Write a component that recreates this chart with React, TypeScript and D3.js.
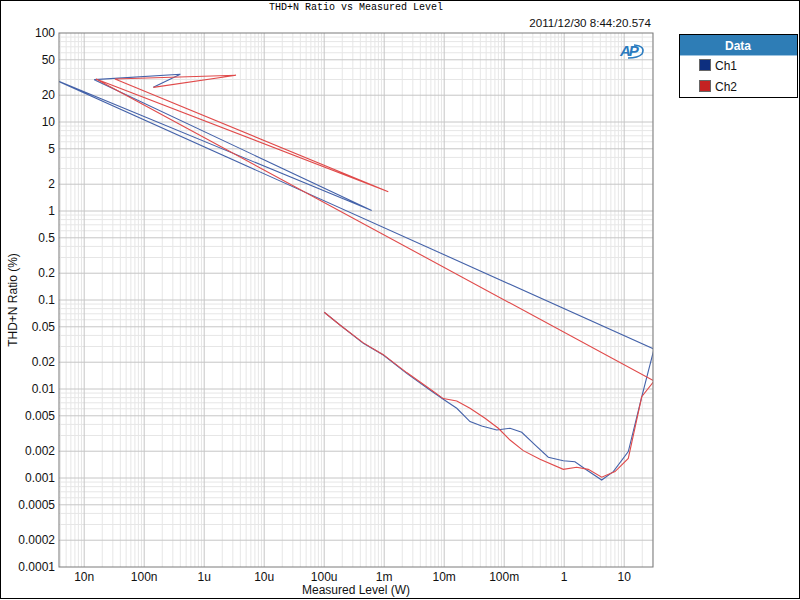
import React from "react";
import * as d3 from "d3";

// ---- data ----
const ch1Level = [1.0e-4, 1.83e-4, 4.49e-4, 9.66e-4, 2.37e-3, 5.79e-3, 9.66e-3, 0.0162, 0.0269, 0.0422, 0.075, 0.125, 0.196, 0.326, 0.543, 0.966, 1.51, 2.37, 4.22, 6.58, 11.7, 19.6, 31.4, 2.9e-9, 6.19e-4, 1.47e-8, 4.0e-7, 1.42e-7];
const ch1Thdn = [0.0728, 0.0524, 0.0326, 0.0241, 0.015, 0.00975, 0.00766, 0.00607, 0.0043, 0.00384, 0.00346, 0.00362, 0.00326, 0.00235, 0.00171, 0.00156, 0.00152, 0.00123, 0.00095, 0.00118, 0.00198, 0.00818, 0.0281, 30.9, 1.01, 29.9, 34.4, 24.5];
const ch2Level = [1.0e-4, 1.83e-4, 4.49e-4, 9.66e-4, 2.37e-3, 5.79e-3, 9.66e-3, 0.0162, 0.0269, 0.0479, 0.0798, 0.125, 0.208, 0.395, 0.966, 1.61, 2.52, 4.22, 7.03, 11.7, 19.6, 31.4, 1.57e-8, 1.17e-3, 3.26e-8, 3.39e-6, 1.42e-7];
const ch2Thdn = [0.0728, 0.0524, 0.033, 0.0243, 0.0153, 0.01, 0.0078, 0.00733, 0.00607, 0.00469, 0.00362, 0.00267, 0.00203, 0.00162, 0.00125, 0.00132, 0.00125, 0.00102, 0.00118, 0.00166, 0.00818, 0.0123, 30.4, 1.65, 30.4, 33.5, 24.5];

const xTickValues = [1e-8, 1e-7, 1e-6, 1e-5, 1e-4, 1e-3, 1e-2, 1e-1, 1, 10];
const xTickLabels = ["10n", "100n", "1u", "10u", "100u", "1m", "10m", "100m", "1", "10"];
const yTickValues = [100, 50, 20, 10, 5, 2, 1, 0.5, 0.2, 0.1, 0.05, 0.02, 0.01, 0.005, 0.002, 0.001, 0.0005, 0.0002, 0.0001];
const yTickLabels = ["100", "50", "20", "10", "5", "2", "1", "0.5", "0.2", "0.1", "0.05", "0.02", "0.01", "0.005", "0.002", "0.001", "0.0005", "0.0002", "0.0001"];

const seriesNames = ["Ch1", "Ch2"];
const lineColors = ["#4462a9", "#e04a4a"];
const swatchColors = ["#0d2f7f", "#c42222"];

const L = 59, R = 653, T = 33, B = 567;

export default function App() {
  const x = d3.scaleLog().domain([Math.pow(10, -8.42), Math.pow(10, 1.48)]).range([L, R]);
  const y = d3.scaleLog().domain([1e-4, 100]).range([B, T]);

  const xMinor: number[] = [];
  for (let e = -9; e <= 1; e++) for (let m = 2; m <= 9; m++) {
    const v = m * Math.pow(10, e);
    const px = x(v);
    if (px > L && px < R) xMinor.push(px);
  }
  const yMinor: number[] = [];
  const yMajor: number[] = [];
  for (let e = -4; e <= 1; e++) for (let m = 1; m <= 9; m++) {
    const v = m * Math.pow(10, e);
    const py = y(v);
    if (py <= T || py >= B) continue;
    if (m === 1 || m === 2 || m === 5) yMajor.push(py); else yMinor.push(py);
  }

  const line = d3.line<[number, number]>().x(d => x(d[0])).y(d => y(d[1]));
  const s1 = line(ch1Level.map((v, i) => [v, ch1Thdn[i]] as [number, number]));
  const s2 = line(ch2Level.map((v, i) => [v, ch2Thdn[i]] as [number, number]));

  const font = "'Liberation Sans', Arial, sans-serif";

  return (
    <svg width={800} height={600} style={{ position: "absolute", left: 0, top: 0, background: "#fff" }} fontFamily={font}>
      <rect x={0} y={0} width={800} height={600} fill="#fff" />
      <defs>
        <clipPath id="plotClip"><rect x={L} y={T} width={R - L} height={B - T} /></clipPath>
      </defs>
      {/* grid */}
      {xMinor.map((px, i) => <line key={"xm" + i} x1={px} x2={px} y1={T} y2={B} stroke="#e6e6e6" strokeWidth={1} />)}
      {yMinor.map((py, i) => <line key={"ym" + i} x1={L} x2={R} y1={py} y2={py} stroke="#e6e6e6" strokeWidth={1} />)}
      {xTickValues.map((v, i) => <line key={"xM" + i} x1={x(v)} x2={x(v)} y1={T} y2={B} stroke="#c6c6c6" strokeWidth={1} />)}
      {yMajor.map((py, i) => <line key={"yM" + i} x1={L} x2={R} y1={py} y2={py} stroke="#c6c6c6" strokeWidth={1} />)}
      {/* data */}
      <g clipPath="url(#plotClip)" fill="none" strokeWidth={1.1}>
        <path d={s1 || ""} stroke={lineColors[0]} />
        <path d={s2 || ""} stroke={lineColors[1]} />
      </g>
      <rect x={L} y={T} width={R - L} height={B - T} fill="none" stroke="#7a7a7a" strokeWidth={1} />
      {/* ticks */}
      {xTickValues.map((v, i) => (
        <text key={"xt" + i} x={x(v)} y={581} fontSize={12} textAnchor="middle" fill="#111">{xTickLabels[i]}</text>
      ))}
      {yTickValues.map((v, i) => (
        <text key={"yt" + i} x={55} y={y(v) + 4} fontSize={12} textAnchor="end" fill="#111">{yTickLabels[i]}</text>
      ))}
      {/* axis labels */}
      <text x={(L + R) / 2} y={594} fontSize={12} textAnchor="middle" fill="#111">Measured Level (W)</text>
      <text transform={`translate(17,${(T + B) / 2}) rotate(-90)`} fontSize={12} textAnchor="middle" fill="#111">THD+N Ratio (%)</text>
      {/* title */}
      <text x={(L + R) / 2} y={10} fontSize={10} textAnchor="middle" fontFamily="'Liberation Mono', monospace" fill="#000">THD+N Ratio vs Measured Level</text>
      <text x={651} y={27} fontSize={11.6} textAnchor="end" fill="#111">2011/12/30 8:44:20.574</text>
      {/* AP logo */}
      <g>
        <text x={620} y={56} fontSize={15} fontWeight="bold" fontStyle="italic" fill="#2b7bbf" letterSpacing={-2}>AP</text>
        <path d="M 634 45 Q 646 46 642 54 Q 638 58 628 58" fill="none" stroke="#2b7bbf" strokeWidth={1.6} />
      </g>
      {/* legend */}
      <rect x={679.5} y={34.5} width={118} height={63} fill="#fff" stroke="#000" strokeWidth={1} />
      <rect x={680} y={35} width={117} height={20} fill="#2e7db6" />
      <line x1={680} x2={797} y1={55.5} y2={55.5} stroke="#9cc3e0" strokeWidth={1} />
      <text x={738} y={49.5} fontSize={12} fontWeight="bold" textAnchor="middle" fill="#fff">Data</text>
      {seriesNames.map((n, i) => (
        <g key={n}>
          <rect x={699.5} y={59.5 + i * 21} width={11} height={11} fill={swatchColors[i]} stroke="#666" strokeWidth={1} />
          <text x={715} y={70 + i * 21} fontSize={12} fill="#111">{n}</text>
        </g>
      ))}
      {/* frame */}
      <rect x={0.5} y={0.5} width={799} height={598} fill="none" stroke="#000" strokeWidth={1} />
    </svg>
  );
}
